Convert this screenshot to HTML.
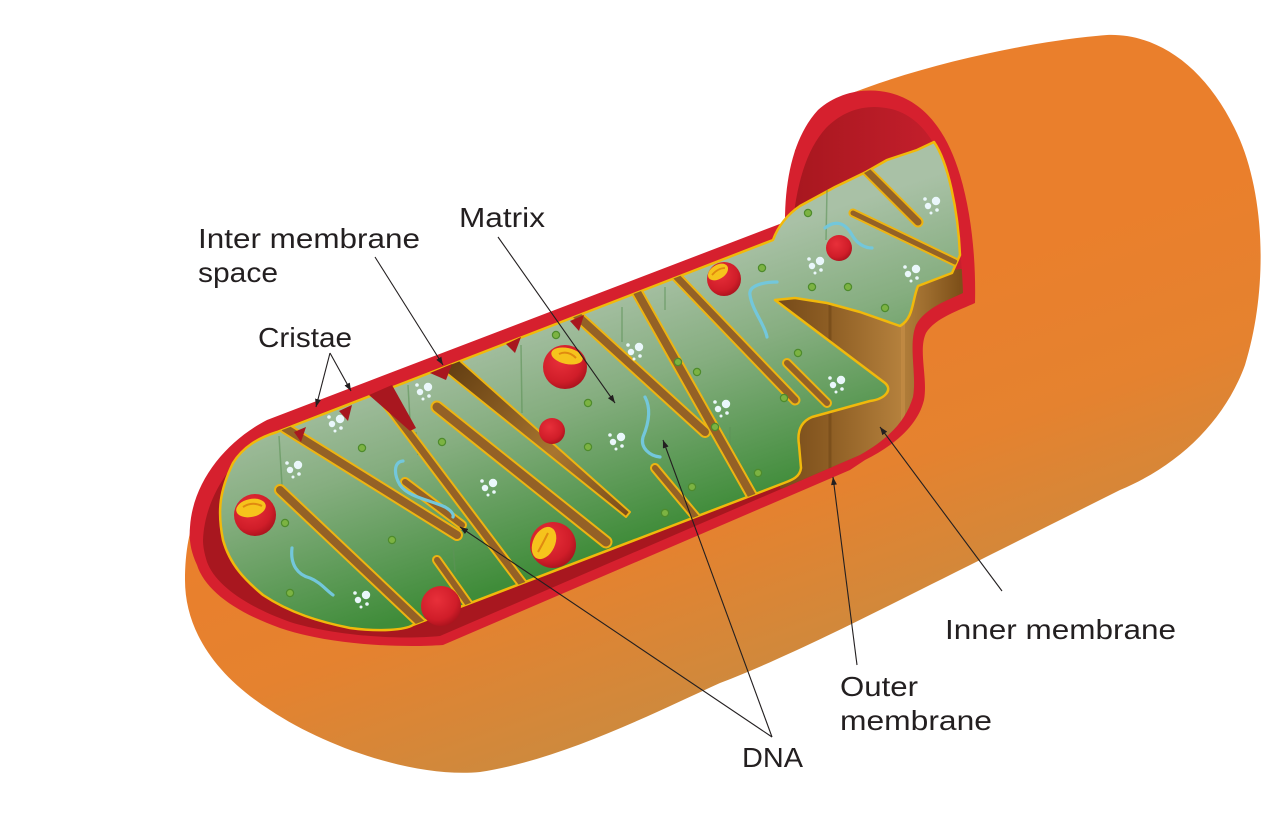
<!DOCTYPE html>
<html><head><meta charset="utf-8">
<style>html,body{margin:0;padding:0;background:#fff;}svg{display:block}</style></head>
<body>
<svg width="1275" height="815" viewBox="0 0 1275 815" xmlns="http://www.w3.org/2000/svg">
<defs>
 <linearGradient id="og" gradientUnits="userSpaceOnUse" x1="640" y1="380" x2="760" y2="720">
  <stop offset="0" stop-color="#EA7F2C"/><stop offset="0.45" stop-color="#E5822F"/><stop offset="1" stop-color="#C98B40"/>
 </linearGradient>
 <linearGradient id="gg" gradientUnits="userSpaceOnUse" x1="560" y1="300" x2="640" y2="540">
  <stop offset="0" stop-color="#A9C1A6"/><stop offset="0.4" stop-color="#86AE80"/><stop offset="1" stop-color="#3F8C39"/>
 </linearGradient>
 <linearGradient id="rin" gradientUnits="userSpaceOnUse" x1="795" y1="0" x2="960" y2="0">
  <stop offset="0" stop-color="#A8171F"/><stop offset="1" stop-color="#C8202E"/>
 </linearGradient>
 <linearGradient id="floor" gradientUnits="userSpaceOnUse" x1="760" y1="0" x2="960" y2="0">
  <stop offset="0" stop-color="#6E4416"/><stop offset="0.35" stop-color="#8E5E24"/><stop offset="0.7" stop-color="#B4803C"/><stop offset="0.85" stop-color="#9A6A2C"/><stop offset="1" stop-color="#7E5019"/>
 </linearGradient>
 <linearGradient id="wallg" gradientUnits="userSpaceOnUse" x1="440" y1="360" x2="628" y2="515">
  <stop offset="0" stop-color="#5E3A10"/><stop offset="0.6" stop-color="#A8752F"/><stop offset="1" stop-color="#7A4D1A"/>
 </linearGradient>
 <radialGradient id="sph" cx="0.4" cy="0.35" r="0.7">
  <stop offset="0" stop-color="#E8303A"/><stop offset="0.7" stop-color="#D01D29"/><stop offset="1" stop-color="#A8121C"/>
 </radialGradient>
 <clipPath id="rclip"><path d="M 203,540 C 205,492 238,452 273,432 L 792,232 C 796,185 806,150 826,128 C 846,108 870,103 895,110 C 920,118 938,142 948,180 C 958,220 962,262 963,293 C 948,300 925,308 916,325 C 908,345 917,375 913,397 C 906,420 890,438 860,455 L 440,636 C 400,640 335,636 290,622 C 245,606 215,584 207,562 C 204,552 203,546 203,540 Z"/></clipPath>
 <clipPath id="gclip"><path d="M 277,432 L 773,240 C 778,226 788,214 800,206 L 835,187 L 866,172 L 887,160 L 917,150 L 934,142 C 948,162 958,210 960,255 L 952,273 L 918,286 C 912,300 914,318 900,326 L 860,312 L 827,303 L 795,298 L 775,300 L 885,383 C 893,390 885,399 870,401 L 812,417 C 800,422 797,432 799,445 L 801,468 C 800,477 792,480 784,483 L 413,625 C 405,630 380,632 350,628 C 320,622 290,613 263,595 C 245,580 230,565 223,540 C 217,510 220,490 233,463 C 243,447 258,438 277,432 Z"/></clipPath>
 <marker id="ah" markerUnits="userSpaceOnUse" markerWidth="8" markerHeight="6" refX="8" refY="3" orient="auto"><path d="M0,0 L8,3 L0,6 Z" fill="#231F20"/></marker>
 <g id="bub" fill="#EAF7FB">
  <circle cx="3" cy="-3" r="4.2"/><circle cx="-5" cy="2" r="3.2"/><circle cx="-8" cy="-5" r="1.8"/><circle cx="4" cy="6" r="1.8"/><circle cx="-2" cy="9" r="1.5"/>
 </g>
</defs>

<!-- orange body -->
<path d="M 200,505 C 215,470 240,440 270,424 L 788,226 L 795,150 L 847,95 C 930,62 1040,40 1107,35 C 1160,33 1210,70 1240,140 C 1265,200 1268,290 1245,365 C 1225,420 1180,465 1120,490 C 1050,525 980,560 920,590 C 850,625 780,660 720,683 C 650,715 560,760 480,772 C 420,778 330,750 270,710 C 215,675 185,630 185,580 C 185,550 190,525 200,505 Z" fill="url(#og)"/>

<!-- red outer membrane -->
<path d="M 190,527 C 193,480 228,440 267,420 L 785,222 C 785,175 795,135 818,110 C 840,90 872,86 897,95 C 928,106 948,135 960,175 C 972,215 976,262 975,303 C 960,310 935,318 926,333 C 918,350 928,378 924,400 C 918,425 895,445 865,460 L 850,470 L 443,645 C 400,648 330,645 280,628 C 235,612 205,590 197,565 C 190,550 189,538 190,527 Z" fill="#D6202E"/>

<!-- dark red intermembrane -->
<path d="M 203,540 C 205,492 238,452 273,432 L 792,232 C 796,185 806,150 826,128 C 846,108 870,103 895,110 C 920,118 938,142 948,180 C 958,220 962,262 963,293 C 948,300 925,308 916,325 C 908,345 917,375 913,397 C 906,420 890,438 860,455 L 440,636 C 400,640 335,636 290,622 C 245,606 215,584 207,562 C 204,552 203,546 203,540 Z" fill="url(#rin)"/>

<!-- brown floor -->
<g clip-path="url(#rclip)">
 <path d="M 760,292 L 970,268 L 970,480 L 800,495 L 780,488 Z" fill="url(#floor)"/>
 <line x1="830" y1="300" x2="830" y2="470" stroke="#6A4214" stroke-width="3" opacity="0.5"/>
 <line x1="903" y1="320" x2="903" y2="445" stroke="#C89048" stroke-width="4" opacity="0.6"/>
</g>

<!-- green matrix -->
<path d="M 277,432 L 773,240 C 778,226 788,214 800,206 L 835,187 L 866,172 L 887,160 L 917,150 L 934,142 C 948,162 958,210 960,255 L 952,273 L 918,286 C 912,300 914,318 900,326 L 860,312 L 827,303 L 795,298 L 775,300 L 885,383 C 893,390 885,399 870,401 L 812,417 C 800,422 797,432 799,445 L 801,468 C 800,477 792,480 784,483 L 413,625 C 405,630 380,632 350,628 C 320,622 290,613 263,595 C 245,580 230,565 223,540 C 217,510 220,490 233,463 C 243,447 258,438 277,432 Z" fill="url(#gg)" stroke="#F1B90B" stroke-width="2.5" stroke-linejoin="round"/>

<!-- faint vertical lines -->
<g stroke="#5E9358" stroke-width="1.5" opacity="0.6">
 <line x1="279" y1="436" x2="282" y2="485"/><line x1="408" y1="385" x2="410" y2="420"/><line x1="416" y1="432" x2="418" y2="455"/>
 <line x1="521" y1="345" x2="522" y2="413"/><line x1="622" y1="307" x2="622" y2="342"/><line x1="665" y1="287" x2="665" y2="310"/>
 <line x1="453" y1="543" x2="455" y2="572"/><line x1="730" y1="427" x2="730" y2="455"/><line x1="827" y1="190" x2="826" y2="240"/>
</g>

<!-- cristae channels / slits -->
<g clip-path="url(#gclip)" stroke-linecap="round">
 <g stroke="#EDB412">
  <line x1="285" y1="428" x2="457" y2="535" stroke-width="12"/>
  <line x1="280" y1="490" x2="426" y2="628" stroke-width="12"/>
  <line x1="372" y1="384" x2="527" y2="590" stroke-width="11"/>
  <line x1="405" y1="482" x2="462" y2="525" stroke-width="10"/>
  <line x1="437" y1="560" x2="474" y2="612" stroke-width="10"/>
  <line x1="437" y1="407" x2="606" y2="542" stroke-width="13"/>
  <line x1="572" y1="311" x2="705" y2="432" stroke-width="12"/>
  <line x1="633" y1="285" x2="756" y2="503" stroke-width="12"/>
  <line x1="671" y1="271" x2="795" y2="400" stroke-width="11"/>
  <line x1="655" y1="468" x2="700" y2="522" stroke-width="10"/>
  <line x1="787" y1="363" x2="827" y2="403" stroke-width="10"/>
  <line x1="862" y1="166" x2="918" y2="222" stroke-width="11"/>
  <line x1="853" y1="213" x2="955" y2="262" stroke-width="9"/>
 </g>
 <g stroke="#946126">
  <line x1="285" y1="428" x2="457" y2="535" stroke-width="8"/>
  <line x1="280" y1="490" x2="426" y2="628" stroke-width="8"/>
  <line x1="372" y1="384" x2="527" y2="590" stroke-width="7"/>
  <line x1="405" y1="482" x2="462" y2="525" stroke-width="6"/>
  <line x1="437" y1="560" x2="474" y2="612" stroke-width="6"/>
  <line x1="437" y1="407" x2="606" y2="542" stroke-width="9"/>
  <line x1="572" y1="311" x2="705" y2="432" stroke-width="8"/>
  <line x1="633" y1="285" x2="756" y2="503" stroke-width="8"/>
  <line x1="671" y1="271" x2="795" y2="400" stroke-width="7"/>
  <line x1="655" y1="468" x2="700" y2="522" stroke-width="6"/>
  <line x1="787" y1="363" x2="827" y2="403" stroke-width="6"/>
  <line x1="862" y1="166" x2="918" y2="222" stroke-width="7"/>
  <line x1="853" y1="213" x2="955" y2="262" stroke-width="5"/>
 </g>
 <polygon points="429,359 449,351 630,512 626,517" fill="url(#wallg)" stroke="#EDB412" stroke-width="2" stroke-linejoin="round"/>
</g>

<!-- dark red notches at top -->
<g fill="#A8171F">
 <polygon points="294,432 306,427 301,442"/>
 <polygon points="339,411 352,405 348,421"/>
 <polygon points="369,395 392,385 416,428 410,431"/>
 <polygon points="430,373 452,364 446,380"/>
 <polygon points="506,344 521,337 515,353"/>
 <polygon points="570,321 584,315 579,331"/>
</g>

<!-- red spheres -->
<circle cx="255" cy="515" r="21" fill="url(#sph)"/>
<ellipse cx="251" cy="508" rx="15" ry="9" transform="rotate(-12 251 508)" fill="#F6C31C"/>
<path d="M 243,507 Q 252,501 262,506" stroke="#E08A10" stroke-width="2" fill="none"/>
<circle cx="565" cy="367" r="22" fill="url(#sph)"/>
<ellipse cx="567" cy="356" rx="16" ry="8" transform="rotate(12 567 356)" fill="#F6C31C"/>
<path d="M 559,354 Q 568,350 576,358" stroke="#E08A10" stroke-width="2" fill="none"/>
<circle cx="552" cy="431" r="13" fill="url(#sph)"/>
<circle cx="553" cy="545" r="23" fill="url(#sph)"/>
<ellipse cx="544" cy="543" rx="11" ry="17" transform="rotate(25 544 543)" fill="#F6C31C"/>
<path d="M 548,533 Q 542,545 538,552" stroke="#E08A10" stroke-width="2" fill="none"/>
<circle cx="441" cy="606" r="20" fill="url(#sph)"/>
<circle cx="724" cy="279" r="17" fill="url(#sph)"/>
<ellipse cx="718" cy="272" rx="11" ry="7" transform="rotate(-32 718 272)" fill="#F6C31C"/>
<path d="M 712,275 Q 718,268 725,268" stroke="#E08A10" stroke-width="1.8" fill="none"/>
<circle cx="839" cy="248" r="13" fill="url(#sph)"/>

<!-- bubbles -->
<use href="#bub" x="295" y="468"/><use href="#bub" x="337" y="422"/><use href="#bub" x="425" y="390"/>
<use href="#bub" x="490" y="486"/><use href="#bub" x="363" y="598"/><use href="#bub" x="618" y="440"/>
<use href="#bub" x="636" y="350"/><use href="#bub" x="723" y="407"/><use href="#bub" x="838" y="383"/>
<use href="#bub" x="817" y="264"/><use href="#bub" x="913" y="272"/><use href="#bub" x="933" y="204"/>

<!-- green dots -->
<g fill="#7CB342" stroke="#4E8B2C" stroke-width="1.2">
 <circle cx="362" cy="448" r="3.6"/><circle cx="442" cy="442" r="3.6"/><circle cx="285" cy="523" r="3.6"/>
 <circle cx="392" cy="540" r="3.6"/><circle cx="290" cy="593" r="3.6"/><circle cx="556" cy="335" r="3.6"/>
 <circle cx="588" cy="403" r="3.6"/><circle cx="588" cy="447" r="3.6"/><circle cx="678" cy="362" r="3.6"/>
 <circle cx="697" cy="372" r="3.6"/><circle cx="715" cy="427" r="3.6"/><circle cx="692" cy="487" r="3.6"/>
 <circle cx="665" cy="513" r="3.6"/><circle cx="758" cy="473" r="3.6"/><circle cx="784" cy="398" r="3.6"/>
 <circle cx="798" cy="353" r="3.6"/><circle cx="762" cy="268" r="3.6"/><circle cx="812" cy="287" r="3.6"/>
 <circle cx="848" cy="287" r="3.6"/><circle cx="808" cy="213" r="3.6"/><circle cx="885" cy="308" r="3.6"/>
</g>

<!-- DNA squiggles -->
<g stroke="#73C7DB" stroke-width="3.2" fill="none" stroke-linecap="round">
 <path d="M 292,548 C 290,565 298,575 310,578 C 320,582 326,590 333,595"/>
 <path d="M 403,461 C 393,462 394,475 400,485 C 408,497 430,500 445,507 C 452,511 454,515 453,517"/>
 <path d="M 645,397 C 652,410 648,425 643,437 C 640,448 650,456 660,457"/>
 <path d="M 777,282 C 765,282 748,285 750,295 C 752,310 765,325 767,337"/>
 <path d="M 825,228 C 835,220 845,222 852,235 C 857,244 865,248 872,248"/>
</g>

<!-- connectors -->
<g stroke="#231F20" stroke-width="1.1" marker-end="url(#ah)">
 <line x1="375" y1="257" x2="443" y2="365"/>
 <line x1="498" y1="237" x2="615" y2="403"/>
 <line x1="330" y1="353" x2="316" y2="407"/>
 <line x1="330" y1="353" x2="351" y2="391"/>
 <line x1="772" y1="737" x2="460" y2="527"/>
 <line x1="772" y1="737" x2="663" y2="440"/>
 <line x1="857" y1="665" x2="833" y2="477"/>
 <line x1="1002" y1="591" x2="880" y2="427"/>
</g>

<!-- labels -->
<g font-family="'Liberation Sans', Arial, sans-serif" font-size="28" fill="#231F20">
 <text x="198" y="248" textLength="222" lengthAdjust="spacingAndGlyphs">Inter membrane</text>
 <text x="198" y="282" textLength="80" lengthAdjust="spacingAndGlyphs">space</text>
 <text x="459" y="227" textLength="86" lengthAdjust="spacingAndGlyphs">Matrix</text>
 <text x="258" y="347" textLength="94" lengthAdjust="spacingAndGlyphs">Cristae</text>
 <text x="945" y="639" textLength="231" lengthAdjust="spacingAndGlyphs">Inner membrane</text>
 <text x="840" y="696" textLength="78" lengthAdjust="spacingAndGlyphs">Outer</text>
 <text x="840" y="730" textLength="152" lengthAdjust="spacingAndGlyphs">membrane</text>
 <text x="742" y="767" textLength="61" lengthAdjust="spacingAndGlyphs">DNA</text>
</g>
</svg>
</body></html>
